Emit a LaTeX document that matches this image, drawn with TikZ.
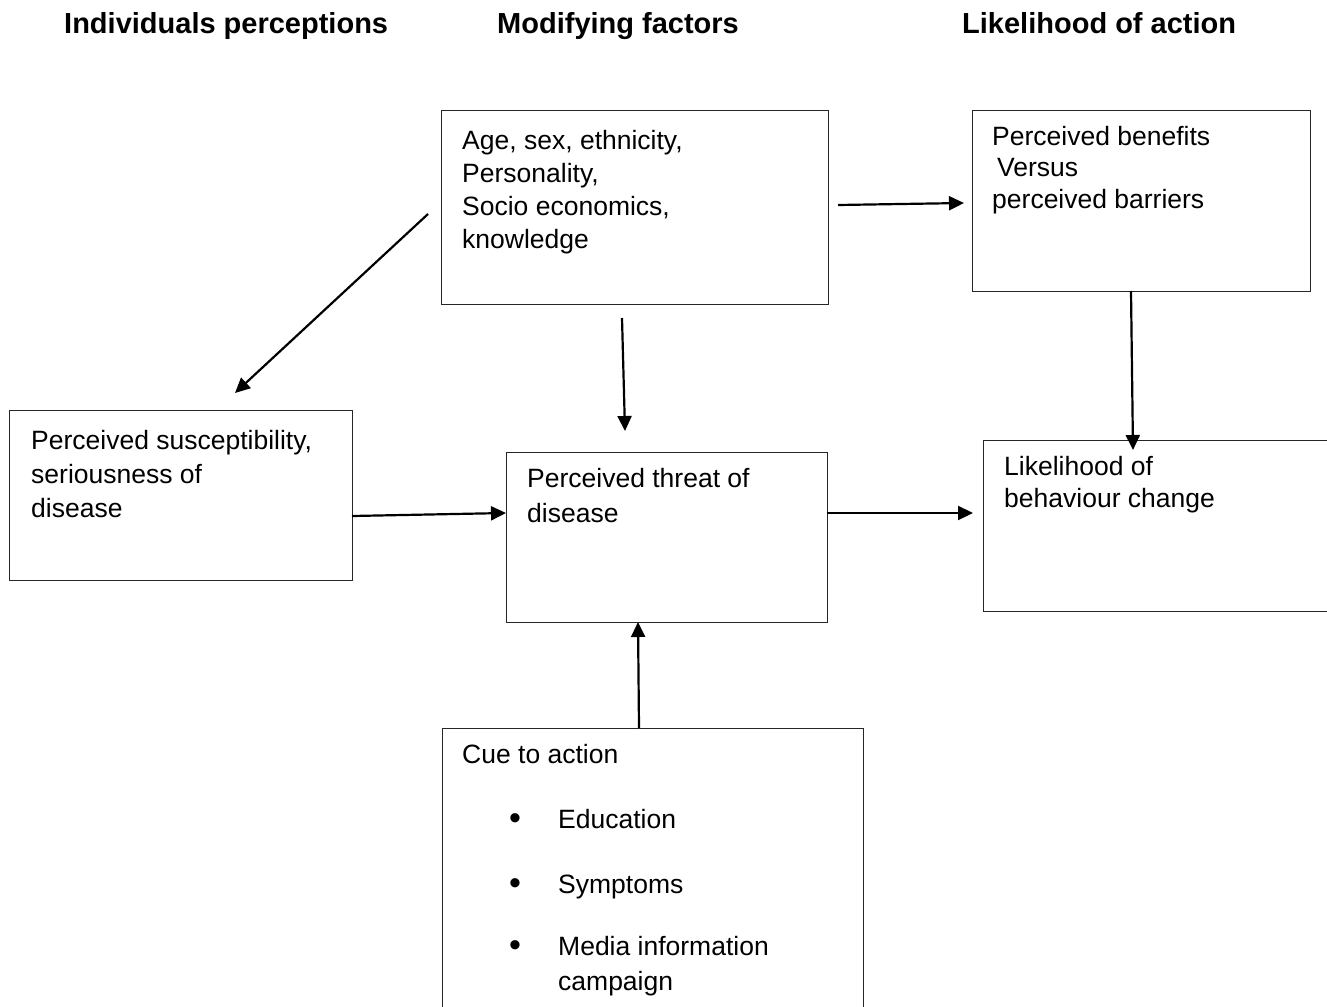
\documentclass[tikz,border=0pt]{standalone}
\usepackage{fontspec}
\setmainfont{Liberation Sans}
\usetikzlibrary{arrows.meta}
\newcommand{\bigbul}{\makebox[96pt][l]{\hspace*{47pt}\raisebox{-1pt}{\fontsize{34}{34}\selectfont •}}}
\tikzset{
  box/.style={draw=black!85, line width=1.2pt, rectangle, inner sep=0pt, anchor=north west},
  txt/.style={inner sep=0pt, anchor=base west, align=left, font=\fontsize{26.5}{32}\selectfont},
  hdr/.style={inner sep=0pt, anchor=base west, font=\fontsize{29}{34}\selectfont\bfseries},
  arr/.style={line width=2.2pt, -{Triangle[length=15pt,width=14pt]}}
}
\begin{document}
\begin{tikzpicture}[x=1pt,y=-1pt]
\clip (0,0) rectangle (1327,1006);
\fill[white] (0,0) rectangle (1327,1006);
% headers
\node[hdr] (h1) at (64,34) {Individuals perceptions};
\node[hdr] (h2) at (497,34) {Modifying factors};
\node[hdr] (h3) at (962,34) {Likelihood of action};
% boxes
\node[box, minimum width=387pt, minimum height=194pt] (mod) at (441,110) {};
\node[box, minimum width=338pt, minimum height=181pt] (ben) at (972,110) {};
\node[box, minimum width=343pt, minimum height=170pt] (sus) at (9,410) {};
\node[box, minimum width=321pt, minimum height=170pt] (thr) at (506,452) {};
\node[box, minimum width=380pt, minimum height=171pt] (lik) at (983,440) {};
\node[box, minimum width=421pt, minimum height=300pt] (cue) at (442,728) {};
% texts (anchored at the baseline of their last line)
\node[txt, font=\fontsize{26.5}{33}\selectfont] (tmod) at (462,248) {Age, sex, ethnicity,\\Personality,\\Socio economics,\\knowledge};
\node[txt, font=\fontsize{26.5}{31.5}\selectfont] (tben) at (992,208) {Perceived benefits\\\hspace*{5pt}Versus\\perceived barriers};
\node[txt, font=\fontsize{26.5}{34}\selectfont] (tsus) at (31,517) {Perceived susceptibility,\\seriousness of\\disease};
\node[txt, font=\fontsize{26.5}{35}\selectfont] (tthr) at (527,522) {Perceived threat of\\disease};
\node[txt] (tlik) at (1004,507) {Likelihood of\\behaviour change};
\node[txt] (tcue) at (462,990) {Cue to action\\[33pt]
\bigbul Education\\[33pt]
\bigbul Symptoms\\[30pt]
\bigbul Media information\\[3pt]
\makebox[96pt][l]{}campaign};
% arrow end points
\coordinate (a1s) at (428,214);
\coordinate (a1e) at (235,393);
\coordinate (a2s) at (622,318);
\coordinate (a2e) at (625,431);
\coordinate (a3s) at (838,205);
\coordinate (a3e) at (964,203);
\coordinate (a4s) at (1131,291);
\coordinate (a4e) at (1133,450);
\coordinate (a5s) at (352,516);
\coordinate (a5e) at (506,513);
\coordinate (a6s) at (827,513);
\coordinate (a6e) at (973,513);
\coordinate (a7s) at (639,728);
\coordinate (a7e) at (638,622);
% arrows
\draw[arr] (a1s) -- (a1e);
\draw[arr] (a2s) -- (a2e);
\draw[arr] (a3s) -- (a3e);
\draw[arr] (a4s) -- (a4e);
\draw[arr] (a5s) -- (a5e);
\draw[arr] (a6s) -- (a6e);
\draw[arr] (a7s) -- (a7e);
\end{tikzpicture}
\end{document}
